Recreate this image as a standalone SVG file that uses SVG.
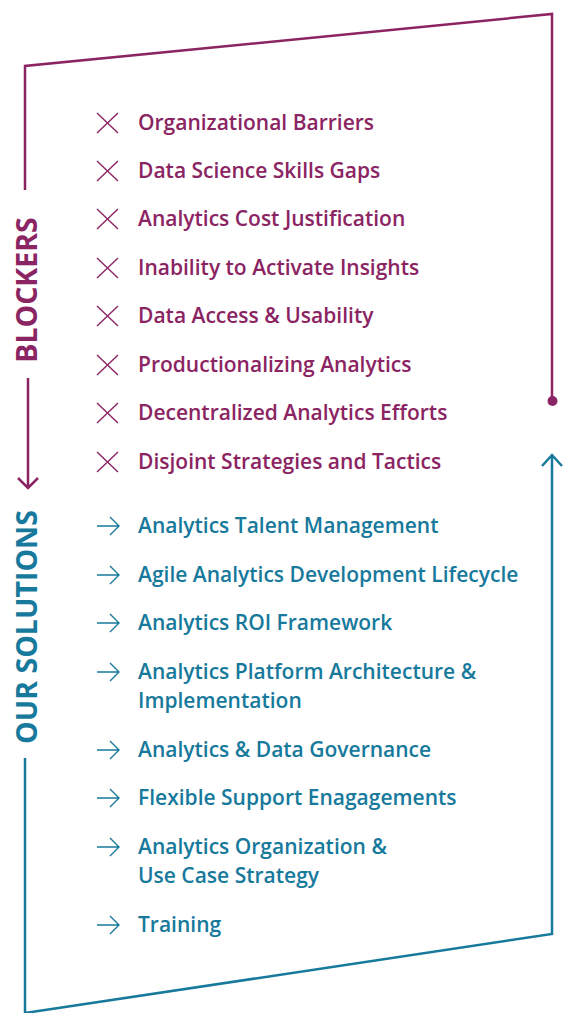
<svg xmlns="http://www.w3.org/2000/svg" width="565" height="1013" viewBox="0 0 565 1013">
<style>
.m{fill:#8b2462}
.b{fill:#17799c}
.t{font-family:"Open Sans","Liberation Sans",sans-serif;font-weight:600;font-size:21px}
.h{font-family:"Open Sans","Liberation Sans",sans-serif;font-weight:700;font-size:28.5px}
.lm{fill:none;stroke:#8b2462;stroke-width:2.5}
.lb{fill:none;stroke:#17799c;stroke-width:2.5}
.im{fill:none;stroke:#8b2462;stroke-width:1.4}
.ib{fill:none;stroke:#17799c;stroke-width:1.4}
</style>
<defs>
<path id="x" d="M-10.5,-10 L10.5,10 M-10.5,10 L10.5,-10"/>
<path id="ar" d="M-11,0 H11 M2,-9 L11,0 L2,9"/>
</defs>
<g id="connectors">
<path class="lm" d="M25,190 V66 L552,14 V400"/>
<circle cx="552.5" cy="401" r="5" fill="#8b2462"/>
<path class="lm" d="M28,378 V488 M18,478 L28,488 L38,478"/>
<path class="lb" d="M25,758 V1013 L552,934 V456 M542,466 L552,455 L562,466"/>
</g>
<g id="label-blockers"><text class="h m" transform="translate(37,290) rotate(-90)" text-anchor="middle">BLOCKERS</text></g>
<g id="label-solutions"><text class="h b" transform="translate(37,627) rotate(-90)" text-anchor="middle">OUR SOLUTIONS</text></g>
<g id="blockers">
<g id="b1"><use href="#x" class="im" x="107.5" y="123"/><text class="t m" x="138" y="129.5">Organizational Barriers</text></g>
<g id="b2"><use href="#x" class="im" x="107.5" y="171"/><text class="t m" x="138" y="177.5">Data Science Skills Gaps</text></g>
<g id="b3"><use href="#x" class="im" x="107.5" y="219"/><text class="t m" x="138" y="225.5">Analytics Cost Justification</text></g>
<g id="b4"><use href="#x" class="im" x="107.5" y="268"/><text class="t m" x="138" y="274.5">Inability to Activate Insights</text></g>
<g id="b5"><use href="#x" class="im" x="107.5" y="316"/><text class="t m" x="138" y="322.5">Data Access &amp; Usability</text></g>
<g id="b6"><use href="#x" class="im" x="107.5" y="365"/><text class="t m" x="138" y="371.5">Productionalizing Analytics</text></g>
<g id="b7"><use href="#x" class="im" x="107.5" y="413"/><text class="t m" x="138" y="419.5">Decentralized Analytics Efforts</text></g>
<g id="b8"><use href="#x" class="im" x="107.5" y="462"/><text class="t m" x="138" y="468.5">Disjoint Strategies and Tactics</text></g>
</g>
<g id="solutions">
<g id="s1"><use href="#ar" class="ib" x="108" y="526"/><text class="t b" x="138" y="532.5">Analytics Talent Management</text></g>
<g id="s2"><use href="#ar" class="ib" x="108" y="575"/><text class="t b" x="138" y="581.5">Agile Analytics Development Lifecycle</text></g>
<g id="s3"><use href="#ar" class="ib" x="108" y="623"/><text class="t b" x="138" y="629.5">Analytics ROI Framework</text></g>
<g id="s4"><use href="#ar" class="ib" x="108" y="672"/><text class="t b" x="138" y="678.5">Analytics Platform Architecture &amp;</text><text class="t b" x="138" y="707.5">Implementation</text></g>
<g id="s5"><use href="#ar" class="ib" x="108" y="750"/><text class="t b" x="138" y="756.5">Analytics &amp; Data Governance</text></g>
<g id="s6"><use href="#ar" class="ib" x="108" y="798"/><text class="t b" x="138" y="804.5">Flexible Support Enagagements</text></g>
<g id="s7"><use href="#ar" class="ib" x="108" y="847"/><text class="t b" x="138" y="853.5">Analytics Organization &amp;</text><text class="t b" x="138" y="882.5">Use Case Strategy</text></g>
<g id="s8"><use href="#ar" class="ib" x="108" y="925"/><text class="t b" x="138" y="931.5">Training</text></g>
</g>
</svg>
